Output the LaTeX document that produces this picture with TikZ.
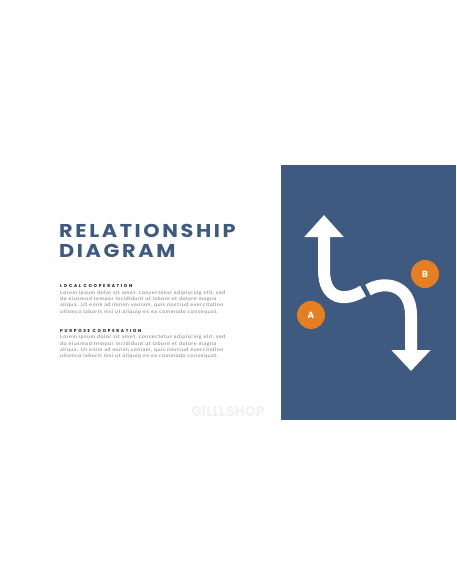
\documentclass[tikz,border=0pt]{standalone}
\usepackage{fontspec}
\setmainfont{Poppins}
\newfontfamily\titlefont[LetterSpace=14,FakeStretch=1.12]{Poppins}
\newfontfamily\subfont[LetterSpace=40]{Poppins}
\newfontfamily\bodyfont[LetterSpace=9,FakeStretch=1.15]{Lato}
\usetikzlibrary{arrows.meta}
\definecolor{panelblue}{HTML}{3E5A80}
\definecolor{badgeorange}{HTML}{E67E22}
\definecolor{bodygray}{HTML}{7C7C7C}
\definecolor{markgray}{HTML}{F1F1F1}
\tikzset{
  badge/.style={circle, fill=badgeorange, minimum size=28pt, inner sep=0pt,
    text=white, font=\bfseries\fontsize{9}{9}\selectfont},
  bendline/.style={white, line width=12pt},
  titletext/.style={anchor=base west, inner sep=0pt, text=panelblue,
    font=\titlefont\bfseries\fontsize{18.6}{18.6}\selectfont},
  subhead/.style={anchor=base west, inner sep=0pt, text=panelblue!40!black,
    font=\subfont\bfseries\fontsize{4.3}{5}\selectfont},
  bodytext/.style={anchor=north west, inner sep=0pt, align=left, text=bodygray,
    font=\bodyfont\fontsize{4.82}{6.3}\selectfont},
}
\begin{document}
\begin{tikzpicture}[x=1pt,y=-1pt]
\useasboundingbox (0,0) rectangle (456,586);

% left column
\node (title1) [titletext] at (59,237) {RELATIONSHIP};
\node (title2) [titletext] at (59,257) {DIAGRAM};

\node (local) [subhead] at (60,287) {LOCAL COOPERATION};
\node (localtxt) [bodytext] at (60,290.5) {Lorem ipsum dolor sit amet, consectetur adipiscing elit, sed\\
do eiusmod tempor incididunt ut labore et dolore magna\\
aliqua. Ut enim ad minim veniam, quis nostrud exercitation\\
ullamco laboris nisi ut aliquip ex ea commodo consequat.};

\node (purpose) [subhead] at (60,332) {PURPOSE COOPERATION};
\node (purposetxt) [bodytext] at (60,335) {Lorem ipsum dolor sit amet, consectetur adipiscing elit, sed\\
do eiusmod tempor incididunt ut labore et dolore magna\\
aliqua. Ut enim ad minim veniam, quis nostrud exercitation\\
ullamco laboris nisi ut aliquip ex ea commodo consequat.};

\node (mark) [text=markgray, font=\bfseries\fontsize{14}{14}\selectfont] at (228,412) {GILLLSHOP};

% right panel
\fill[panelblue] (281,165) rectangle (456,420);

\draw[bendline, -{Triangle[width=38pt,length=22pt]}]
  (363,291) .. controls (345,302) and (324,300) .. (324,270) -- (324,215);
\draw[bendline, -{Triangle[width=38pt,length=21pt]}]
  (368,290) .. controls (385,280) and (411,285) .. (411,315) -- (411,371);

\node (A) [badge] at (311,315) {A};
\node (B) [badge] at (425,274) {B};

\end{tikzpicture}
\end{document}
